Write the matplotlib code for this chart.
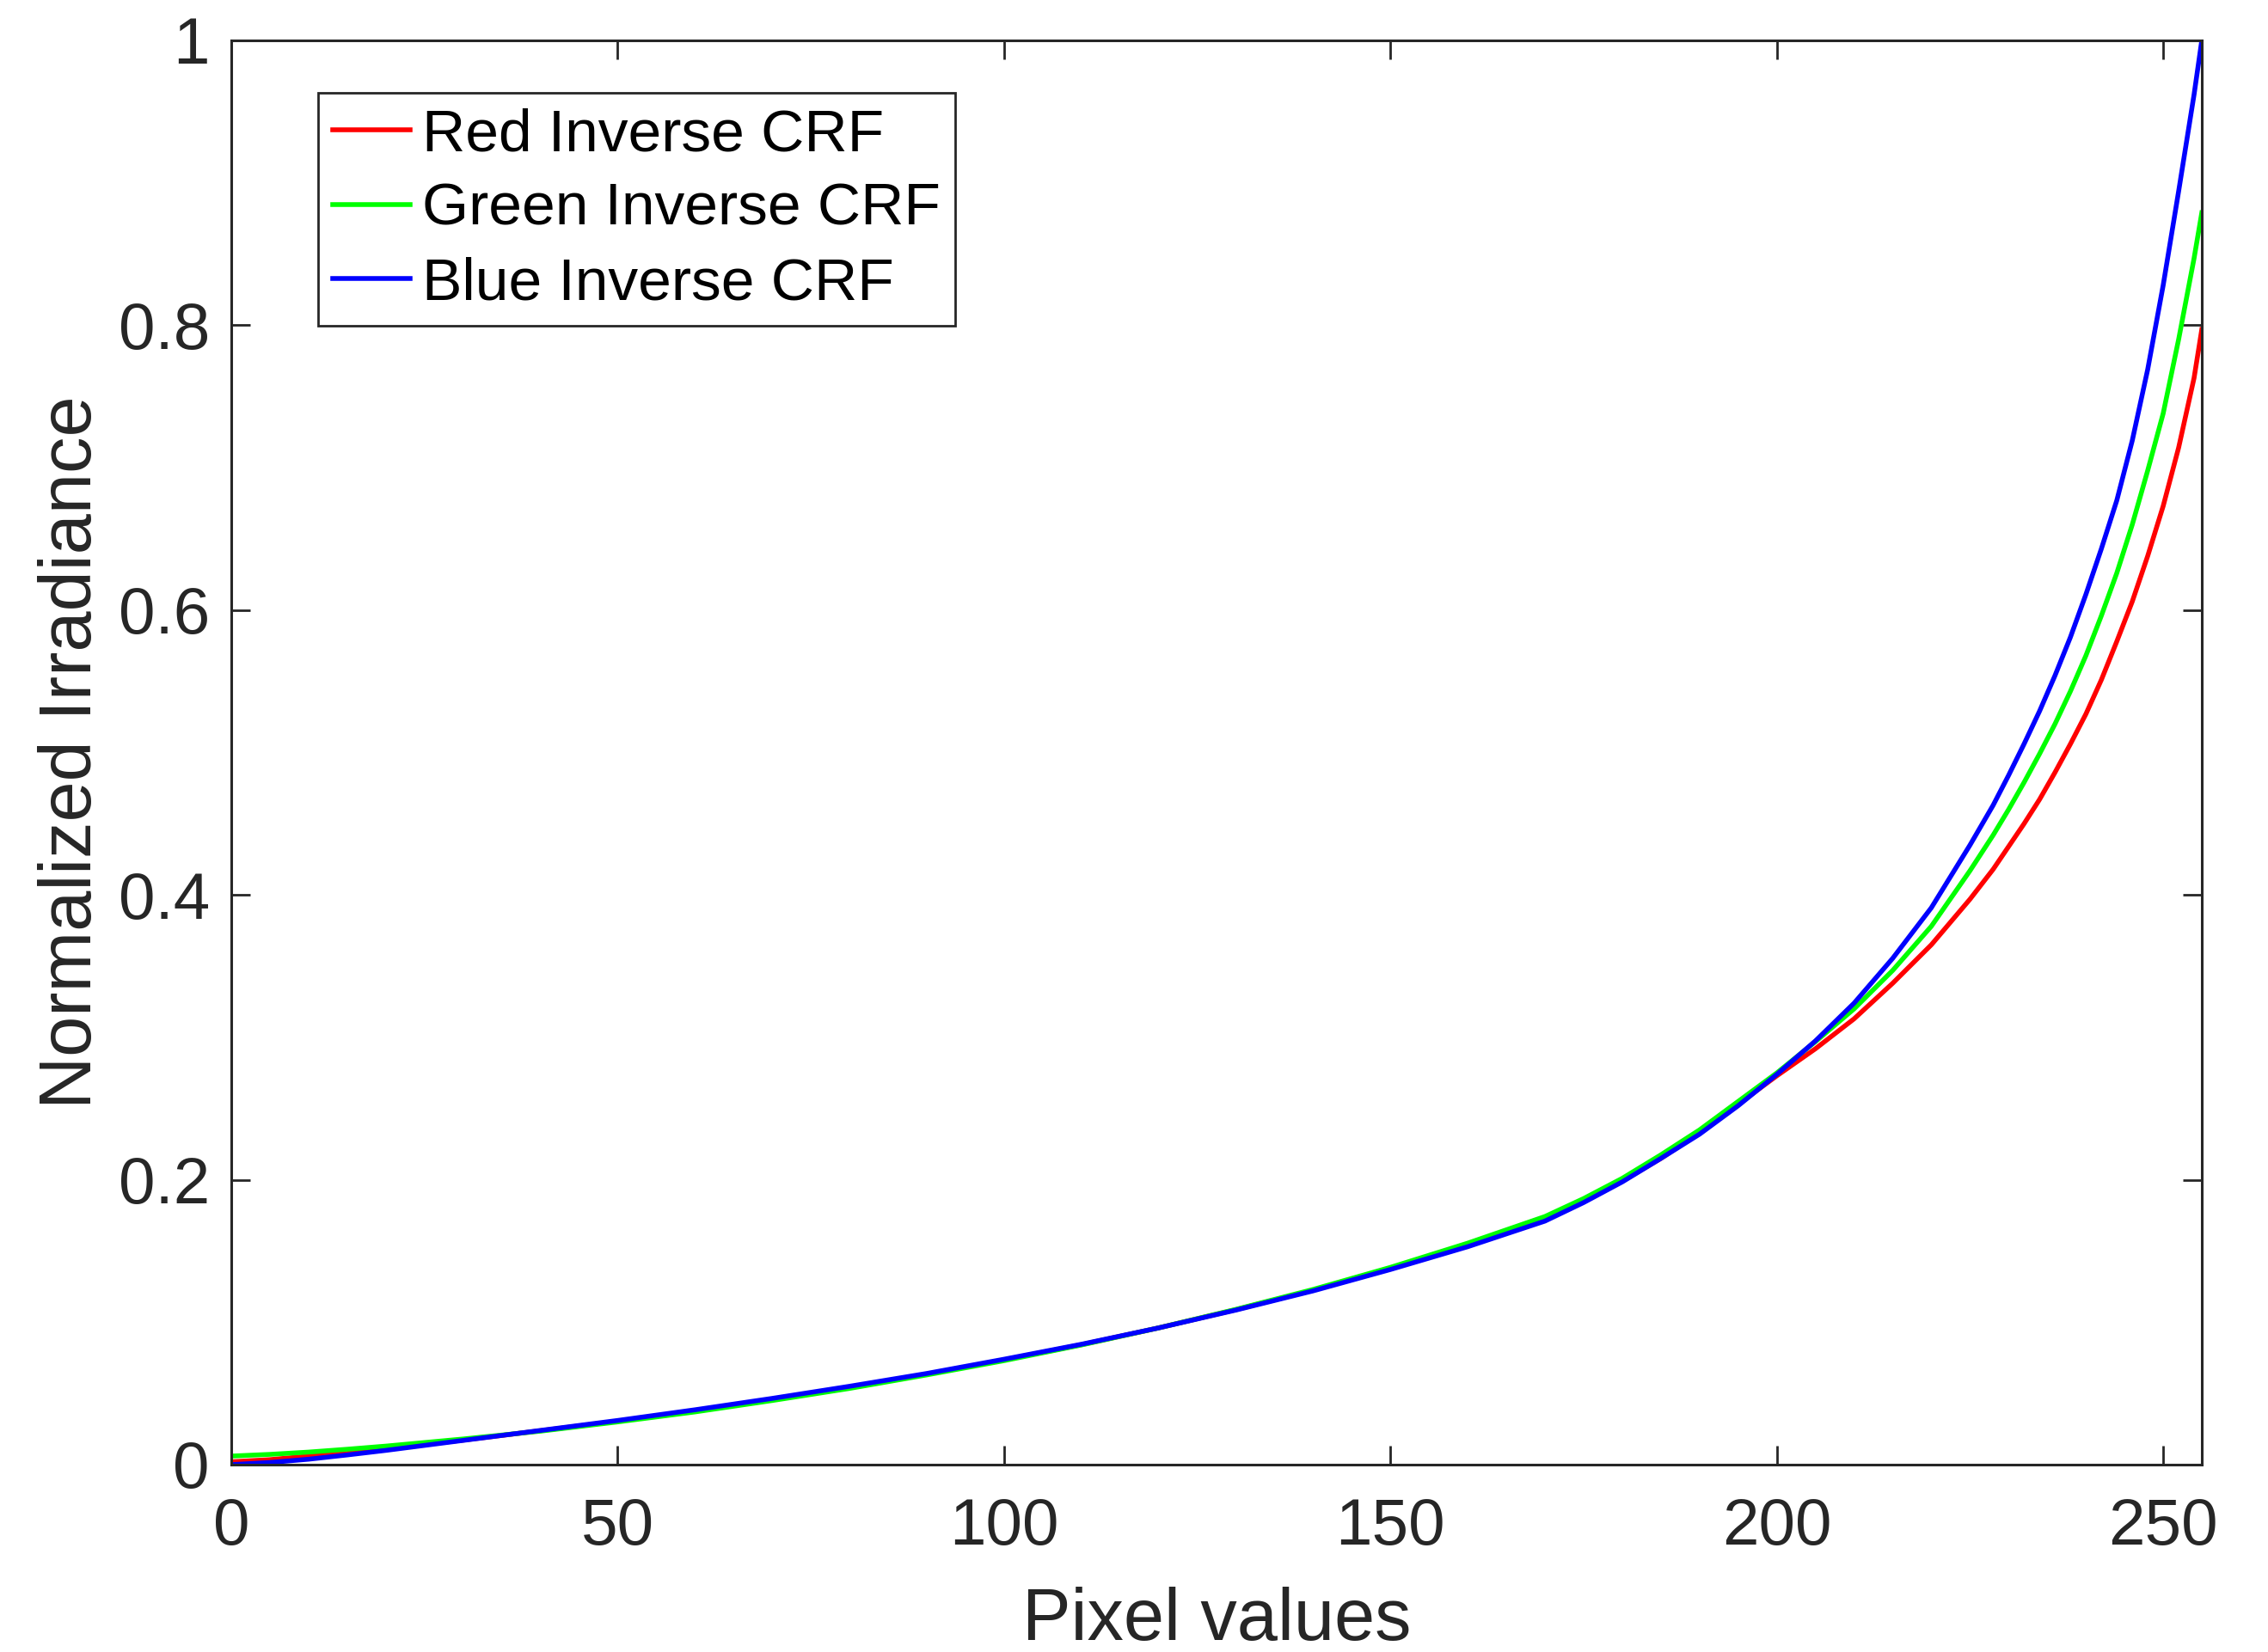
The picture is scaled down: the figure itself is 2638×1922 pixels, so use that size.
import matplotlib
matplotlib.use("Agg")
import matplotlib.pyplot as plt

# ---- data ----
pixel_x = [0, 5, 10, 15, 20, 25, 30, 40, 50, 60, 70, 80, 90, 100, 110, 120,
           130, 140, 150, 160, 170, 175, 180, 185, 190, 195, 200, 205, 210,
           215, 220, 225, 228, 230, 232, 234, 236, 238, 240, 242, 244, 246,
           248, 250, 252, 254, 255]

red_crf = [0.0020, 0.0035, 0.0060, 0.0085, 0.0112, 0.0142, 0.0172, 0.0238,
           0.0305, 0.0378, 0.0458, 0.0543, 0.0635, 0.0735, 0.0842, 0.0960,
           0.1088, 0.1225, 0.1378, 0.1542, 0.1725, 0.1850, 0.1990, 0.2150,
           0.2330, 0.2530, 0.2730, 0.2920, 0.3130, 0.3380, 0.3650, 0.3970,
           0.4180, 0.4340, 0.4500, 0.4670, 0.4860, 0.5060, 0.5270, 0.5510,
           0.5780, 0.6060, 0.6380, 0.6730, 0.7140, 0.7630, 0.7970]

green_crf = [0.0060, 0.0072, 0.0088, 0.0108, 0.0130, 0.0155, 0.0180, 0.0235,
             0.0300, 0.0370, 0.0450, 0.0535, 0.0630, 0.0730, 0.0840, 0.0960,
             0.1090, 0.1230, 0.1385, 0.1555, 0.1742, 0.1868, 0.2010, 0.2175,
             0.2350, 0.2550, 0.2750, 0.2970, 0.3200, 0.3470, 0.3780, 0.4170,
             0.4420, 0.4600, 0.4790, 0.4990, 0.5200, 0.5430, 0.5680, 0.5960,
             0.6260, 0.6600, 0.6980, 0.7380, 0.7900, 0.8470, 0.8790]

blue_crf = [0.0000, 0.0015, 0.0038, 0.0068, 0.0100, 0.0135, 0.0170, 0.0240,
            0.0310, 0.0385, 0.0465, 0.0550, 0.0640, 0.0740, 0.0845, 0.0960,
            0.1085, 0.1220, 0.1370, 0.1530, 0.1710, 0.1840, 0.1985, 0.2150,
            0.2320, 0.2520, 0.2740, 0.2975, 0.3240, 0.3555, 0.3910, 0.4350,
            0.4630, 0.4840, 0.5060, 0.5290, 0.5540, 0.5810, 0.6110, 0.6430,
            0.6770, 0.7190, 0.7690, 0.8280, 0.8940, 0.9620, 1.0000]

series_labels = ["Red Inverse CRF", "Green Inverse CRF", "Blue Inverse CRF"]
x_ticks = [0, 50, 100, 150, 200, 250]
y_ticks = [0, 0.2, 0.4, 0.6, 0.8, 1]
y_tick_labels = ["0", "0.2", "0.4", "0.6", "0.8", "1"]
x_label = "Pixel values"
y_label = "Normalized Irradiance"

# ---- style ----
plt.rcParams["font.family"] = ["Liberation Sans", "DejaVu Sans"]
axis_color = "#262626"

W, H, DPI = 2638, 1922, 100
fig = plt.figure(figsize=(W / DPI, H / DPI), dpi=DPI)
left, right, top, bottom = 269, 2561, 47, 1704
ax = fig.add_axes([left / W, 1 - bottom / H, (right - left) / W, (bottom - top) / H])

lw = 4.0
ax.plot(pixel_x, red_crf, color=(1, 0, 0), lw=lw, label=series_labels[0],
        solid_joinstyle="round")
ax.plot(pixel_x, green_crf, color=(0, 1, 0), lw=lw, label=series_labels[1],
        solid_joinstyle="round")
ax.plot(pixel_x, blue_crf, color=(0, 0, 1), lw=lw, label=series_labels[2],
        solid_joinstyle="round")

ax.set_xlim(0, 255)
ax.set_ylim(0, 1)
ax.set_xticks(x_ticks)
ax.set_yticks(y_ticks)
ax.set_yticklabels(y_tick_labels)

for sp in ax.spines.values():
    sp.set_color(axis_color)
    sp.set_linewidth(2.2)

ax.tick_params(axis="both", which="both", direction="in", length=16, width=2.0,
               color=axis_color, labelcolor=axis_color, labelsize=55,
               top=True, right=True)
ax.tick_params(axis="x", pad=27)
ax.tick_params(axis="y", pad=18)

ax.set_xlabel(x_label, fontsize=61, color=axis_color, labelpad=24)
ax.set_ylabel(y_label, fontsize=61, color=axis_color, labelpad=10)

leg = ax.legend(loc="upper left", bbox_to_anchor=(0.044, 0.963),
                borderaxespad=0, fontsize=50, frameon=True, fancybox=False,
                framealpha=1, edgecolor=axis_color, handlelength=1.30,
                handletextpad=0.19, labelspacing=0.32, borderpad=0.25)
leg.get_frame().set_linewidth(2.0)
for t in leg.get_texts():
    t.set_color("black")

fig.savefig("out.png", dpi=DPI, facecolor="white")
